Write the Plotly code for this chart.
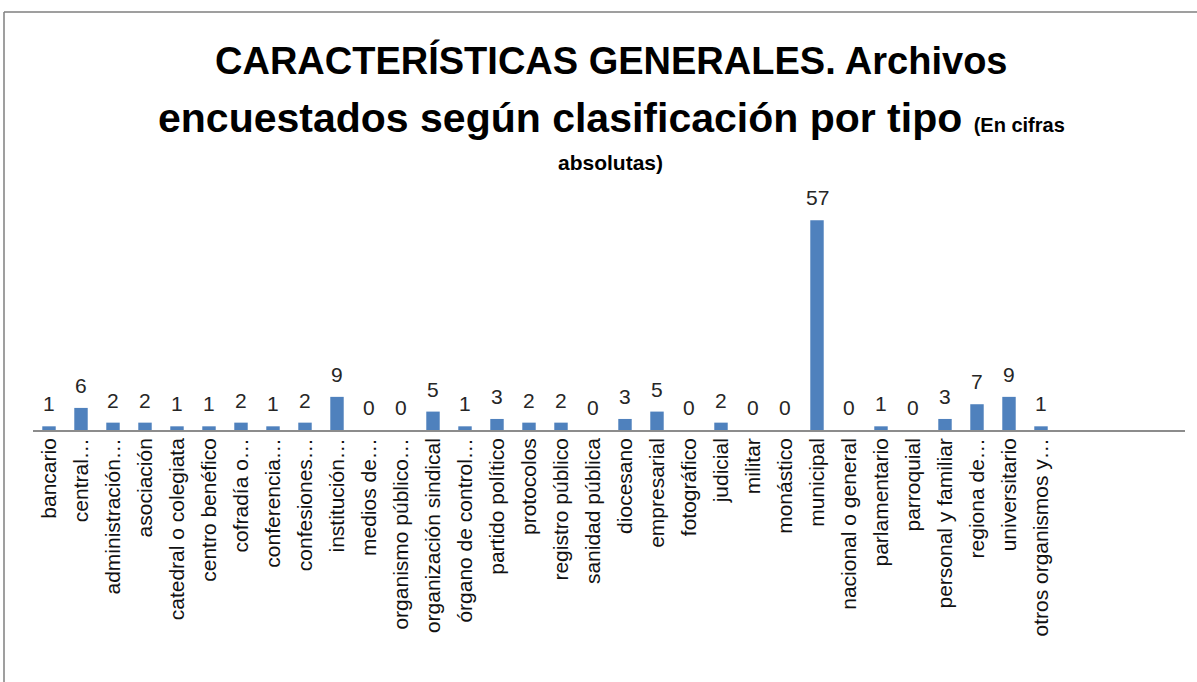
import plotly.graph_objects as go

categories = [
    "bancario", "central…", "administración…", "asociación", "catedral o colegiata",
    "centro benéfico", "cofradía o…", "conferencia…", "confesiones…", "institución…",
    "medios de…", "organismo público…", "organización sindical", "órgano de control…",
    "partido político", "protocolos", "registro público", "sanidad pública", "diocesano",
    "empresarial", "fotográfico", "judicial", "militar", "monástico", "municipal",
    "nacional o general", "parlamentario", "parroquial", "personal y familiar",
    "regiona de…", "universitario", "otros organismos y…",
]
values = [1, 6, 2, 2, 1, 1, 2, 1, 2, 9, 0, 0, 5, 1, 3, 2, 2, 0, 3, 5, 0, 2, 0, 0, 57,
          0, 1, 0, 3, 7, 9, 1]

W, H = 1197, 682
L, R, T, B = 33, 12, 180, 252
pw, ph = W - L - R, H - T - B

fig = go.Figure()
fig.add_trace(go.Bar(
    x=categories, y=values,
    marker=dict(color="#4F81BD", line=dict(width=0)),
    cliponaxis=False,
))

for c, v in zip(categories, values):
    fig.add_annotation(
        x=c, y=v, xref="x", yref="y", text=str(v), showarrow=False,
        yanchor="bottom", yshift=9,
        font=dict(family="Liberation Sans, Arial", size=21, color="#262626"),
    )

def px_x(p):
    return (p - L) / pw

def px_y(p):
    return (H - B - p) / ph

fig.update_layout(
    width=W, height=H,
    margin=dict(l=L, r=R, t=T, b=B),
    paper_bgcolor="white", plot_bgcolor="white",
    showlegend=False, bargap=0.58,
    xaxis=dict(
        type="category", range=[-0.5, 35.5], tickangle=-90,
        tickfont=dict(family="Liberation Sans, Arial", size=21, color="#111"),
        showline=True, linecolor="#8C8C8C", linewidth=1.5,
        ticks="", showgrid=False, zeroline=False, ticklabelstandoff=-2,
    ),
    yaxis=dict(range=[0, 67.9], visible=False, showgrid=False, zeroline=False),
    font=dict(family="Liberation Sans, Arial"),
)

title_font = "Liberation Sans, Arial"
fig.add_annotation(
    text="<b>CARACTERÍSTICAS GENERALES. Archivos</b>",
    xref="paper", yref="paper", x=px_x(611), y=px_y(60), xanchor="center", yanchor="middle",
    showarrow=False, font=dict(family=title_font, size=38, color="black"),
)
fig.add_annotation(
    text="<b>encuestados según clasificación por tipo <span style='font-size:20px'>(En cifras</span></b>",
    xref="paper", yref="paper", x=px_x(611), y=px_y(118), xanchor="center", yanchor="middle",
    showarrow=False, font=dict(family=title_font, size=41, color="black"),
)
fig.add_annotation(
    text="<b>absolutas)</b>",
    xref="paper", yref="paper", x=px_x(610), y=px_y(162), xanchor="center", yanchor="middle",
    showarrow=False, font=dict(family=title_font, size=21, color="black"),
)

# outer chart frame
fig.add_shape(type="line", xref="paper", yref="paper",
              x0=px_x(4), x1=px_x(1200), y0=px_y(12), y1=px_y(12),
              line=dict(color="#7F7F7F", width=1.5))
fig.add_shape(type="line", xref="paper", yref="paper",
              x0=px_x(4), x1=px_x(4), y0=px_y(12), y1=px_y(690),
              line=dict(color="#7F7F7F", width=1.5))

fig.write_html("out.html", config={"displayModeBar": False},
               post_script="document.body.style.margin='0';")
